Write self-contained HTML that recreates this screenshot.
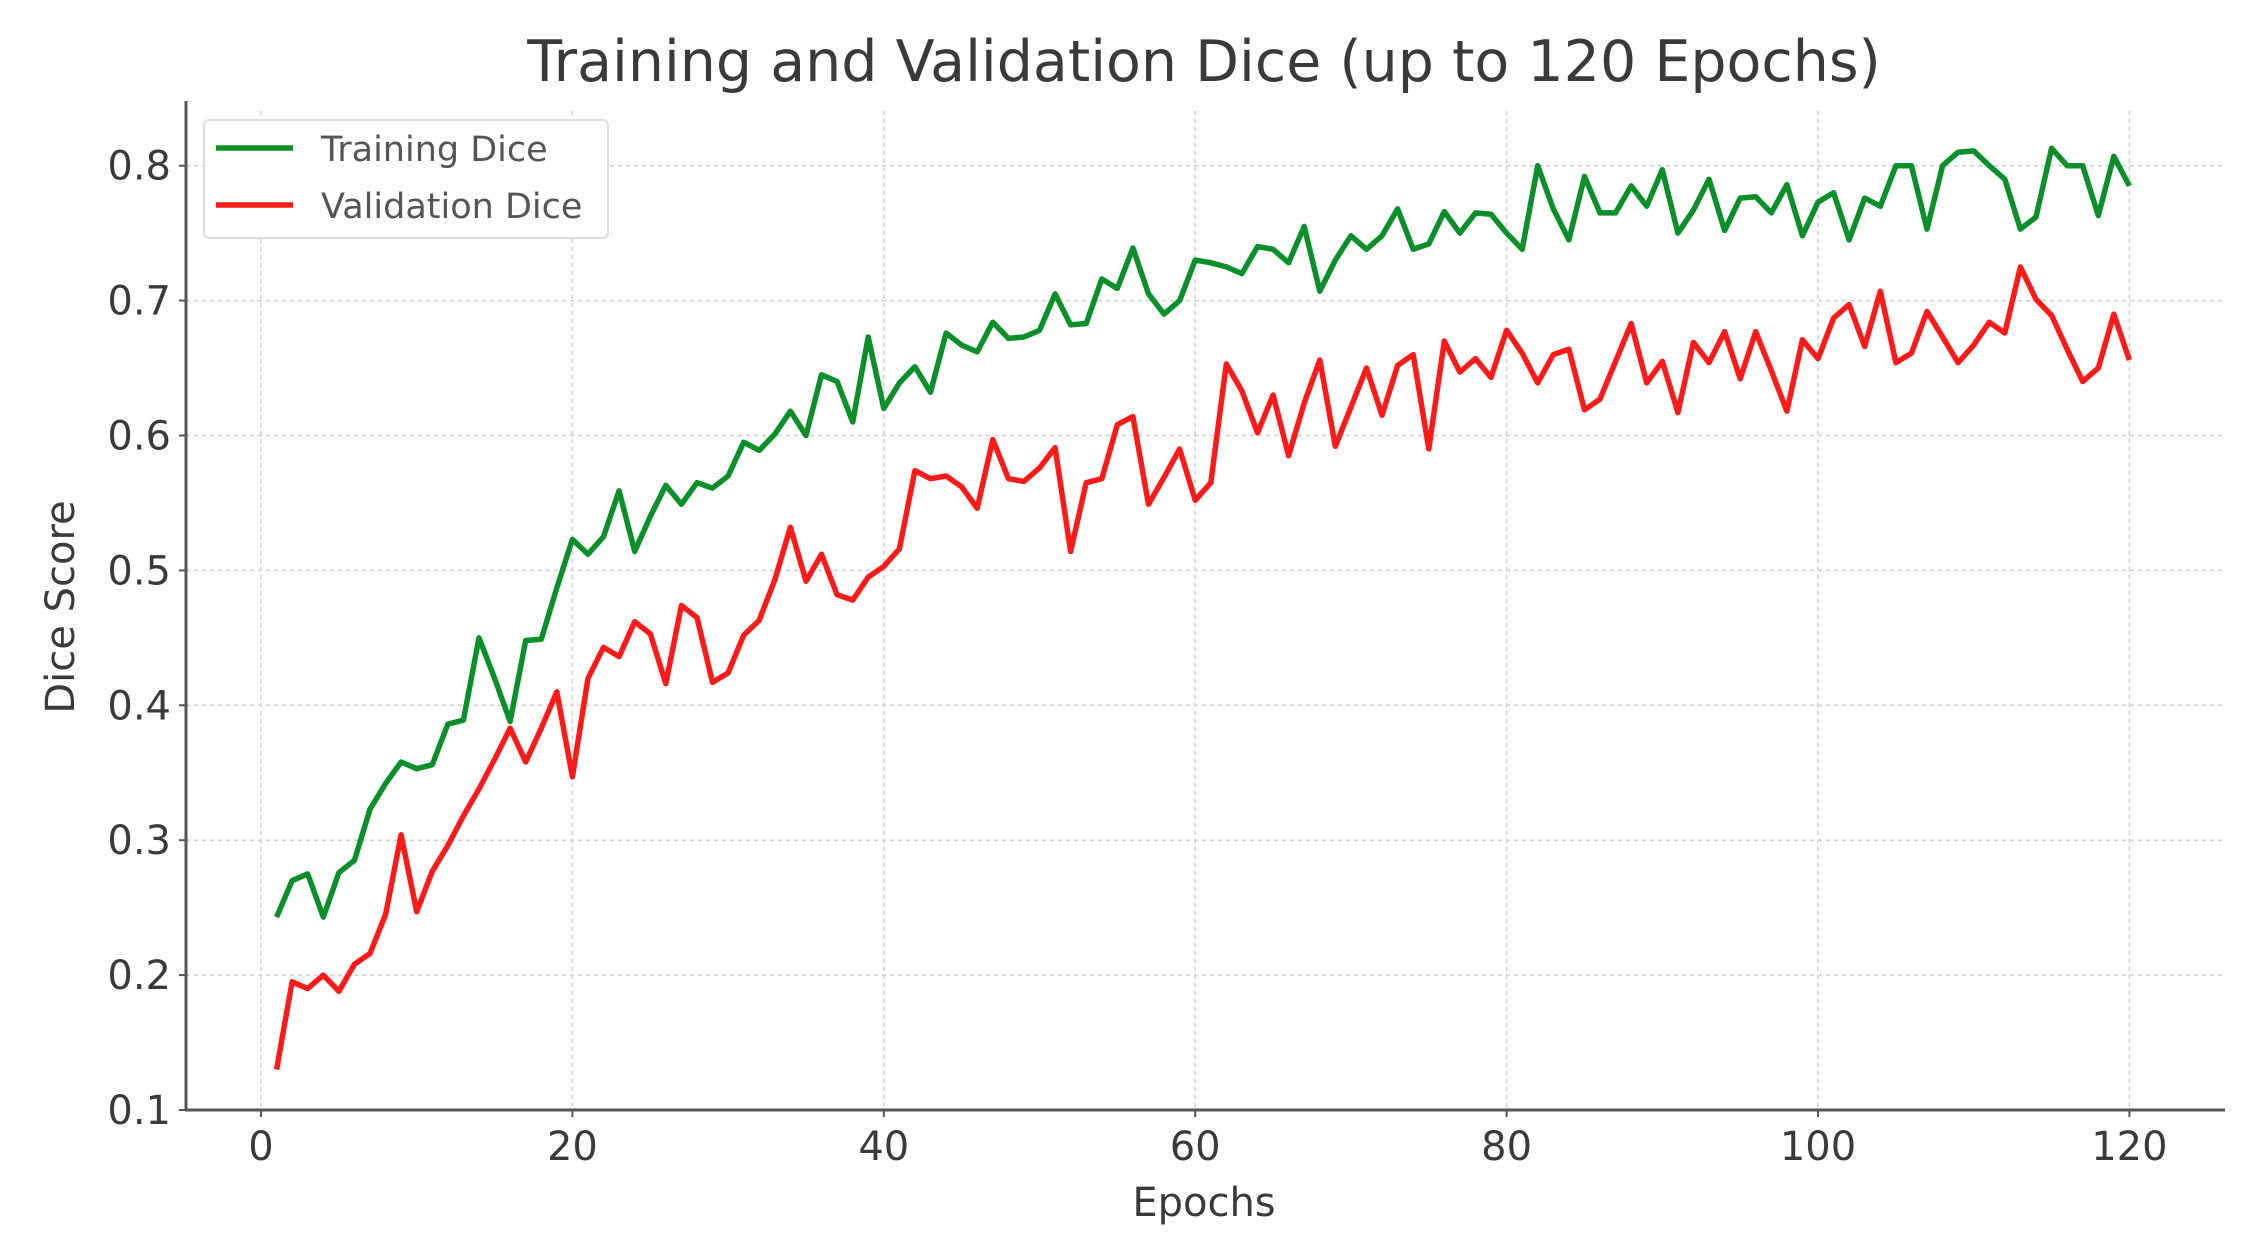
<!DOCTYPE html>
<html><head><meta charset="utf-8"><style>
html,body{margin:0;padding:0;background:#fff;}
svg{display:block;font-family:"DejaVu Sans","Liberation Sans",sans-serif;}
</style></head><body>
<svg id="chart" width="2255" height="1243" viewBox="0 0 2255 1243" xmlns="http://www.w3.org/2000/svg">
<text x="1204" y="81" font-size="57" fill="#3a3a3a" text-anchor="middle">Training and Validation Dice (up to 120 Epochs)</text>
<g id="grid"></g>
<g id="axes"></g>
<g id="series"></g>
<text x="1204" y="1216" font-size="40" fill="#3a3a3a" text-anchor="middle">Epochs</text>
<text transform="translate(74,607) rotate(-90)" font-size="40" fill="#3a3a3a" text-anchor="middle">Dice Score</text>
<g>
<rect x="204" y="120" width="404" height="118" rx="5" fill="#fff" stroke="#dcdcdc" stroke-width="2"/>
<line x1="216" y1="148" x2="293" y2="148" stroke="#0a8f2a" stroke-width="5.5"/>
<text x="321" y="161" font-size="35" fill="#555">Training Dice</text>
<line x1="216" y1="205" x2="293" y2="205" stroke="#ff1a1a" stroke-width="5.5"/>
<text x="321" y="218" font-size="35" fill="#555">Validation Dice</text>
</g>
</svg>
<script>
const xTicks = [0,20,40,60,80,100,120];
const yTicks = [0.1,0.2,0.3,0.4,0.5,0.6,0.7,0.8];
const trainDice = [0.243,0.27,0.275,0.243,0.276,0.285,0.323,0.342,0.358,0.353,0.356,0.386,0.389,0.45,0.42,0.388,0.448,0.449,0.487,0.523,0.512,0.525,0.559,0.514,0.54,0.563,0.549,0.565,0.561,0.57,0.595,0.589,0.601,0.618,0.6,0.645,0.64,0.61,0.673,0.62,0.639,0.651,0.632,0.676,0.667,0.662,0.684,0.672,0.673,0.678,0.705,0.682,0.683,0.716,0.709,0.739,0.705,0.69,0.70,0.73,0.728,0.725,0.72,0.74,0.738,0.728,0.755,0.707,0.73,0.748,0.738,0.748,0.768,0.738,0.742,0.766,0.75,0.765,0.764,0.75,0.738,0.80,0.768,0.745,0.792,0.765,0.765,0.785,0.77,0.797,0.75,0.767,0.79,0.752,0.776,0.777,0.765,0.786,0.748,0.773,0.78,0.745,0.776,0.77,0.8,0.8,0.753,0.8,0.81,0.811,0.8,0.79,0.753,0.762,0.813,0.8,0.8,0.763,0.807,0.785];
const valDice = [0.13,0.195,0.19,0.2,0.188,0.208,0.216,0.245,0.304,0.247,0.277,0.296,0.318,0.338,0.36,0.383,0.358,0.383,0.41,0.347,0.42,0.443,0.436,0.462,0.453,0.416,0.474,0.465,0.417,0.424,0.452,0.463,0.493,0.532,0.492,0.512,0.482,0.478,0.495,0.503,0.516,0.574,0.568,0.57,0.562,0.546,0.597,0.568,0.566,0.576,0.591,0.514,0.565,0.568,0.608,0.614,0.549,0.569,0.59,0.552,0.565,0.653,0.633,0.602,0.63,0.585,0.624,0.656,0.592,0.621,0.65,0.615,0.652,0.66,0.59,0.67,0.647,0.657,0.643,0.678,0.661,0.639,0.66,0.664,0.619,0.627,0.655,0.683,0.639,0.655,0.617,0.669,0.654,0.677,0.642,0.677,0.648,0.618,0.671,0.657,0.687,0.697,0.666,0.707,0.654,0.661,0.692,0.673,0.654,0.667,0.684,0.676,0.725,0.701,0.689,0.664,0.64,0.65,0.69,0.656];

const NS = "http://www.w3.org/2000/svg";
const L = 186, R = 2225, T = 101, B = 1110;
function xs(e){ return 261 + e * 15.57; }
function ys(v){ return 1110 - (v - 0.1) * 1349; }
function mk(tag, attrs, parent){
  const el = document.createElementNS(NS, tag);
  for (const k in attrs) el.setAttribute(k, attrs[k]);
  parent.appendChild(el);
  return el;
}
const grid = document.getElementById('grid');
const axes = document.getElementById('axes');
const series = document.getElementById('series');

xTicks.forEach(t => {
  const g = mk('line', {x1: xs(t), x2: xs(t), y1: T+10, y2: B, stroke: '#cfcfcf', 'stroke-width': 1.5, 'stroke-dasharray': '4,4'}, grid);
  
  
  const tk = mk('line', {x1: xs(t), x2: xs(t), y1: B, y2: B+7, stroke: '#555', 'stroke-width': 2}, axes);
  
  
  const lb = mk('text', {x: xs(t), y: B+50, 'font-size': 40, fill: '#3a3a3a', 'text-anchor': 'middle'}, axes);
  lb.textContent = String(t);
  
  
});
yTicks.forEach(t => {
  const g = mk('line', {x1: L, x2: R, y1: ys(t), y2: ys(t), stroke: '#cfcfcf', 'stroke-width': 1.5, 'stroke-dasharray': '4,4'}, grid);
  
  
  const tk = mk('line', {x1: L-7, x2: L, y1: ys(t), y2: ys(t), stroke: '#555', 'stroke-width': 2}, axes);
  
  
  const lb = mk('text', {x: 171, y: ys(t)+14, 'font-size': 40, fill: '#3a3a3a', 'text-anchor': 'end'}, axes);
  lb.textContent = t.toFixed(1);
  
  
});
const ya = mk('line', {x1: L, x2: L, y1: T, y2: B+1, stroke: '#555', 'stroke-width': 3}, axes);


const xa = mk('line', {x1: L-1, x2: R, y1: B, y2: B, stroke: '#555', 'stroke-width': 3}, axes);



function pts(arr){ return arr.map((v,i) => xs(i+1).toFixed(1) + ',' + ys(v).toFixed(1)).join(' '); }
const tl = mk('polyline', {points: pts(trainDice), fill: 'none', stroke: '#0a8f2a', 'stroke-width': 5.5, 'stroke-linejoin': 'round'}, series);


const vl = mk('polyline', {points: pts(valDice), fill: 'none', stroke: '#ff1a1a', 'stroke-width': 5.5, 'stroke-linejoin': 'round'}, series);


</script>
</body></html>
